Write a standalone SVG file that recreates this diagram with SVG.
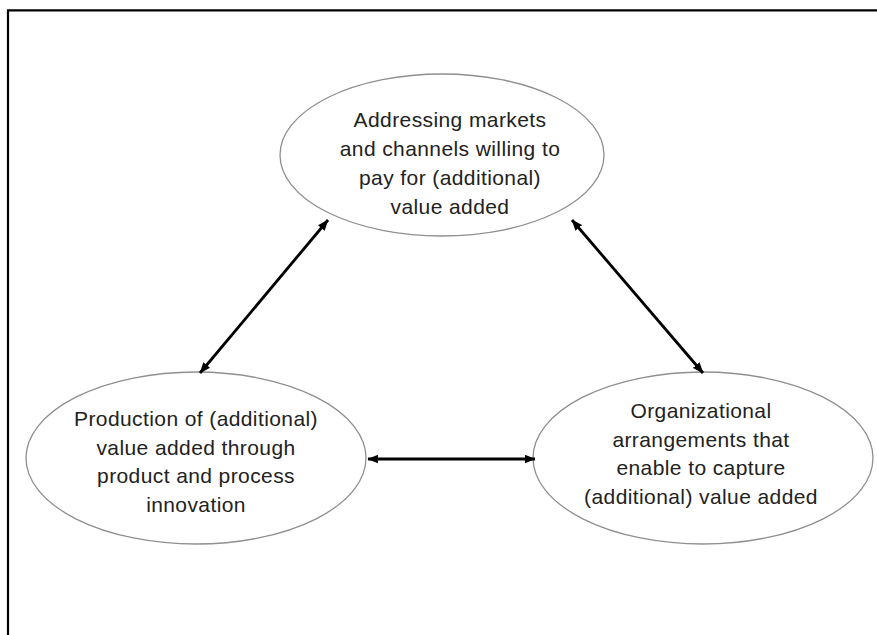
<svg xmlns="http://www.w3.org/2000/svg" width="877" height="635" viewBox="0 0 877 635">
  <style>
    .node ellipse { fill: #ffffff; stroke: #8f8f8f; stroke-width: 1.3; }
    .node text { font-family: "Liberation Sans", Arial, sans-serif; font-size: 21px; fill: #222222; text-anchor: middle; letter-spacing: 0.4px; }
    .conn line { stroke: #000000; stroke-width: 2.8; marker-start: url(#arrow); marker-end: url(#arrow); }
  </style>
  <defs>
    <marker id="arrow" viewBox="0 0 10 8" refX="9.5" refY="4" markerWidth="11" markerHeight="9" markerUnits="userSpaceOnUse" orient="auto-start-reverse">
      <path d="M0,0 L10,4 L0,8 Z" fill="#000000"/>
    </marker>
  </defs>
  <rect width="877" height="635" fill="#ffffff"/>
  <path d="M8,640 V10.3 H880" fill="none" stroke="#000000" stroke-width="2.2"/>

  <g id="node-markets" class="node">
    <ellipse cx="442" cy="155" rx="162" ry="81"/>
    <text x="450" y="127">Addressing markets</text>
    <text x="450" y="156">and channels willing to</text>
    <text x="450" y="185">pay for (additional)</text>
    <text x="450" y="214">value added</text>
  </g>

  <g id="node-production" class="node">
    <ellipse cx="196" cy="458" rx="170" ry="86"/>
    <text x="196" y="426">Production of (additional)</text>
    <text x="196" y="455">value added through</text>
    <text x="196" y="483">product and process</text>
    <text x="196" y="512">innovation</text>
  </g>

  <g id="node-organization" class="node">
    <ellipse cx="703" cy="458" rx="170" ry="86"/>
    <text x="701" y="418">Organizational</text>
    <text x="701" y="447">arrangements that</text>
    <text x="701" y="475">enable to capture</text>
    <text x="701" y="504">(additional) value added</text>
  </g>

  <g id="connectors" class="conn">
    <line x1="328" y1="220" x2="200" y2="373"/>
    <line x1="572" y1="220" x2="703" y2="373"/>
    <line x1="368" y1="459" x2="535" y2="459"/>
  </g>
</svg>
